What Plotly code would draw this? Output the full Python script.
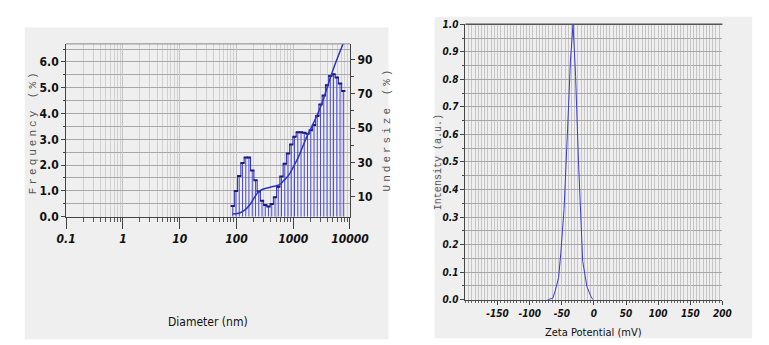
import plotly.graph_objects as go

# ---------------- data: left panel (particle size distribution) ----------------
diameter_nm = [86, 98, 112, 128, 146, 166, 190, 217, 247, 282, 322, 367, 419, 478,
               545, 622, 710, 810, 924, 1054, 1203, 1373, 1566, 1787, 2039, 2326,
               2654, 3029, 3456, 3943, 4499, 5134, 5857, 6683, 7626]
frequency_pct = [0.41, 1.0, 1.58, 2.08, 2.29, 2.29, 1.79, 1.41, 0.98, 0.62, 0.45, 0.39,
                 0.49, 0.75, 1.16, 1.56, 2.05, 2.45, 2.8, 3.1, 3.27, 3.27, 3.25, 3.22,
                 3.35, 3.55, 3.9, 4.35, 4.7, 5.1, 5.45, 5.52, 5.4, 5.16, 4.87]
undersize_d = [85, 109, 142, 173, 210, 239, 273, 332, 404, 524, 597, 681, 828, 1007,
               1227, 1816, 2065, 3062, 5164, 7656]
undersize_pct = [0, 0.5, 2.5, 5.6, 10, 12.5, 14, 15, 15.7, 16.6, 17.5, 19.5, 22.5, 27.5,
                 33, 46.5, 50, 62.7, 85, 99.5]
size_tick_vals = [0.1, 1, 10, 100, 1000, 10000]
size_tick_text = ["0.1", "1", "10", "100", "1000", "10000"]
freq_tick_vals = [0, 1, 2, 3, 4, 5, 6]
freq_tick_text = ["0.0", "1.0", "2.0", "3.0", "4.0", "5.0", "6.0"]
under_tick_vals = [10, 30, 50, 70, 90]
under_tick_text = ["10", "30", "50", "70", "90"]

# ---------------- data: right panel (zeta potential) ----------------
zeta_mv = [-72, -64, -60, -55, -51.5, -46.5, -41, -36.5, -32.5, -28.5, -24, -19,
           -17.5, -11, -5, -1.5]
zeta_intensity = [0.0, 0.005, 0.035, 0.08, 0.17, 0.33, 0.62, 0.87, 1.0, 0.81, 0.5,
                  0.2, 0.14, 0.048, 0.013, 0.0]
zeta_tick_vals = [-150, -100, -50, 0, 50, 100, 150, 200]
zeta_tick_text = ["-150", "-100", "-50", "0", "50", "100", "150", "200"]
int_tick_vals = [0.0, 0.1, 0.2, 0.3, 0.4, 0.5, 0.6, 0.7, 0.8, 0.9, 1.0]
int_tick_text = ["0.0", "0.1", "0.2", "0.3", "0.4", "0.5", "0.6", "0.7", "0.8", "0.9", "1.0"]

W, H = 769, 345
def px(x):
    return x / W
def py(y):
    return 1 - y / H

def bold(labels):
    return ["<b>" + t + "</b>" for t in labels]

NARROW = "DejaVu Sans Condensed, Liberation Sans Narrow, Roboto Condensed, Arial Narrow, Liberation Sans, Arial"
MONO = "Liberation Mono, Courier New, monospace"

fig = go.Figure()

# histogram stems
stem_x, stem_y = [], []
for d, f in zip(diameter_nm, frequency_pct):
    stem_x += [d, d, None]
    stem_y += [0, f, None]
fig.add_trace(go.Scatter(x=stem_x, y=stem_y, mode="lines",
                         line=dict(color="#4a4ad6", width=1), xaxis="x", yaxis="y",
                         hoverinfo="skip", showlegend=False))
# step outline
fig.add_trace(go.Scatter(x=diameter_nm, y=frequency_pct, mode="lines+markers",
                         line=dict(color="#2a2aa8", width=1, shape="hvh"),
                         marker=dict(symbol="line-ew", size=3,
                                     line=dict(color="#1a1a80", width=2)),
                         xaxis="x", yaxis="y", showlegend=False))
# cumulative undersize curve
fig.add_trace(go.Scatter(x=undersize_d, y=undersize_pct, mode="lines",
                         line=dict(color="#2b35c4", width=1.5, shape="spline"),
                         xaxis="x", yaxis="y2", showlegend=False))
# zeta potential curve
fig.add_trace(go.Scatter(x=zeta_mv, y=zeta_intensity, mode="lines",
                         line=dict(color="#3a3acc", width=1),
                         xaxis="x2", yaxis="y3", showlegend=False))

tick_font_b = dict(family=NARROW, size=12, color="#111")
tick_font_bi = dict(family=NARROW, size=12, color="#111", style="italic")
tick_font_bi_r = dict(family=NARROW, size=10, color="#111", style="italic")

minor_log = [m * 10 ** e for e in range(-1, 4) for m in range(2, 10)]

fig.update_layout(
    width=W, height=H,
    margin=dict(l=0, r=0, t=0, b=0),
    paper_bgcolor="white", plot_bgcolor="white",
    showlegend=False,
    xaxis=dict(domain=[px(50), px(345)], type="log", range=[-1, 4],
               tickvals=size_tick_vals, ticktext=bold(size_tick_text),
               ticks="outside", ticklen=11, tickcolor="#444", tickwidth=1,
               showgrid=True, gridcolor="#c4c4c4", gridwidth=1,
               showline=True, linecolor="#444", linewidth=1, mirror=False,
               tickfont=tick_font_bi, zeroline=False, anchor="y",
               minor=dict(tickvals=minor_log, ticks="outside", ticklen=4,
                          tickcolor="#555", showgrid=True, gridcolor="#d0d0d0",
                          gridwidth=1)),
    yaxis=dict(domain=[py(211), py(32)], range=[0, 6.7],
               tickvals=freq_tick_vals, ticktext=bold(freq_tick_text),
               ticks="outside", ticklen=4, tickcolor="#444",
               showgrid=True, gridcolor="#a8a8a8", gridwidth=1.2,
               showline=True, linecolor="#444", linewidth=1,
               tickfont=tick_font_b, zeroline=False, anchor="x",
               minor=dict(dtick=0.5, tick0=0, ticks="outside", ticklen=2,
                          tickcolor="#444", showgrid=True, gridcolor="#a8a8a8",
                          gridwidth=1.2)),
    yaxis2=dict(overlaying="y", side="right", anchor="x", range=[-1.5, 99],
                tickvals=under_tick_vals, ticktext=bold(under_tick_text),
                ticks="outside", ticklen=4,
                tickcolor="#444", showgrid=False, zeroline=False,
                showline=True, linecolor="#444", linewidth=1,
                tickfont=tick_font_b,
                minor=dict(tickvals=[20, 40, 60, 80], ticks="outside", ticklen=3,
                           tickcolor="#444", showgrid=False)),
    xaxis2=dict(domain=[px(465), px(732)], range=[-200, 200],
                tickvals=zeta_tick_vals, ticktext=bold(zeta_tick_text), anchor="y3",
                ticks="outside", ticklen=4, tickcolor="#444",
                showgrid=True, gridcolor="#c6c6c6", gridwidth=1,
                showline=True, linecolor="#444", linewidth=1, mirror=False,
                tickfont=tick_font_bi_r, zeroline=False,
                minor=dict(dtick=5, tick0=0, ticks="outside", ticklen=2,
                           tickcolor="#666", showgrid=True, gridcolor="#c6c6c6",
                           gridwidth=1)),
    yaxis3=dict(domain=[py(297), py(11.7)], range=[0, 1.0], anchor="x2",
                tickvals=int_tick_vals, ticktext=bold(int_tick_text),
                ticks="outside", ticklen=4, tickcolor="#444",
                showgrid=True, gridcolor="#a8a8a8", gridwidth=1,
                showline=True, linecolor="#444", linewidth=1,
                tickfont=tick_font_bi_r, zeroline=False,
                minor=dict(dtick=0.05, tick0=0, ticks="outside", ticklen=2,
                           tickcolor="#444", showgrid=True, gridcolor="#a8a8a8",
                           gridwidth=1)),
    shapes=[
        dict(type="rect", xref="paper", yref="paper", layer="below",
             x0=px(7), x1=px(385), y0=py(338), y1=py(15),
             fillcolor="#efefef", line=dict(width=0)),
        dict(type="rect", xref="paper", yref="paper", layer="below",
             x0=px(433), x1=px(763), y0=py(337), y1=py(4),
             fillcolor="#efefef", line=dict(width=0)),
        dict(type="line", xref="paper", yref="paper", x0=px(50), x1=px(345),
             y0=py(32), y1=py(32), line=dict(color="#888", width=1)),
        dict(type="line", xref="paper", yref="paper", x0=px(465), x1=px(732),
             y0=py(11.7), y1=py(11.7), line=dict(color="#555", width=1.5)),
    ],
    annotations=[
        dict(text="Diameter (nm)", xref="paper", yref="paper",
             x=px(197.5), y=py(320), showarrow=False, xanchor="center", yanchor="middle",
             font=dict(family=NARROW, size=12, color="#111")),
        dict(text="Zeta Potential (mV)", xref="paper", yref="paper",
             x=px(598.5), y=py(331.5), showarrow=False, xanchor="center", yanchor="middle",
             font=dict(family=NARROW, size=11, color="#111")),
        dict(text='<span style="letter-spacing:3px">Frequency (%)</span>',
             xref="paper", yref="paper", x=px(15), y=py(123), showarrow=False,
             xanchor="center", yanchor="middle",
             textangle=-90, font=dict(family=MONO, size=11, color="#555")),
        dict(text='<span style="letter-spacing:3px">Undersize (%)</span>',
             xref="paper", yref="paper", x=px(383), y=py(120), showarrow=False,
             xanchor="center", yanchor="middle",
             textangle=-90, font=dict(family=MONO, size=11, color="#555")),
        dict(text="Intensity (a.u.)", xref="paper", yref="paper",
             x=px(437), y=py(155), showarrow=False, textangle=-90,
             xanchor="center", yanchor="middle",
             font=dict(family=MONO, size=10, color="#555")),
    ],
)

fig.write_html("out.html")
